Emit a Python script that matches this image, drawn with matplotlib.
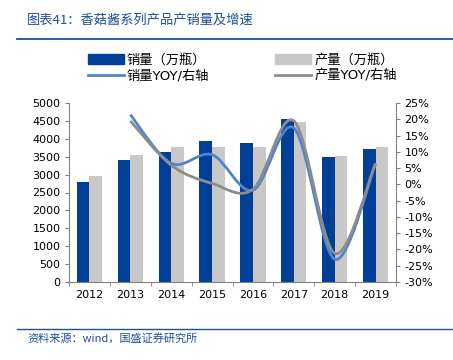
import matplotlib
matplotlib.use("Agg")
import matplotlib.pyplot as plt
import numpy as np
from matplotlib.path import Path
from matplotlib.patches import PathPatch
from matplotlib.lines import Line2D
from matplotlib.patches import Patch

plt.rcParams['font.family'] = ['DejaVu Sans', 'Noto Sans CJK SC']

years = ['2012', '2013', '2014', '2015', '2016', '2017', '2018', '2019']
sales = [2800, 3400, 3620, 3950, 3880, 4550, 3500, 3720]
production = [2970, 3550, 3760, 3760, 3760, 4480, 3530, 3770]
sales_yoy = [None, 21.4, 6.5, 9.1, -1.8, 17.3, -23.0, 6.3]
prod_yoy = [None, 19.5, 5.9, 0.3, -1.5, 19.5, -21.2, 6.5]

title = '图表41：香菇酱系列产品产销量及增速'
source = '资料来源：wind，国盛证券研究所'
legend_labels = ['销量（万瓶）', '产量（万瓶）', '销量YOY/右轴', '产量YOY/右轴']

c_sales = '#003F98'
c_prod = '#C8C8C8'
c_sline = '#5184CC'
c_pline = '#8C8C8C'
c_title = '#1F4E9C'

fig = plt.figure(figsize=(4.53, 3.6), dpi=100)
W, H = 453, 360
ax = fig.add_axes([69 / W, 1 - 282 / H, (396 - 69) / W, (282 - 103) / H])
ax2 = ax.twinx()

x = np.arange(len(years))
bw = 0.31
ax.bar(x - bw / 2, sales, bw, color=c_sales, zorder=2)
ax.bar(x + bw / 2, production, bw, color=c_prod, zorder=2)
ax.set_xlim(-0.5, len(years) - 0.5)
ax.set_ylim(0, 5000)
ax.set_yticks(np.arange(0, 5001, 500))
ax.set_xticks(x)
ax.set_xticklabels(years)
ax.set_xticks(np.arange(-0.5, len(years), 1), minor=True)
ax.tick_params(axis='x', which='major', length=0, pad=6, labelsize=8)
ax.tick_params(axis='x', which='minor', length=3, color='#808080')
ax.tick_params(axis='y', length=3, color='#808080', labelsize=8, pad=3)
for s in ['top', 'right']:
    ax.spines[s].set_visible(False)
ax.spines['left'].set_color('#808080')
ax.spines['bottom'].set_color('#808080')
ax.spines['left'].set_linewidth(0.8)

ax2.set_ylim(-30, 25)
ax2.set_yticks(np.arange(-30, 26, 5))
ax2.set_yticklabels([f'{v}%' for v in range(-30, 26, 5)])
ax2.tick_params(axis='y', length=3, color='#808080', labelsize=8, pad=3)
for s in ['top', 'left', 'bottom']:
    ax2.spines[s].set_visible(False)
ax2.spines['right'].set_color('#808080')
ax2.spines['right'].set_linewidth(0.8)


def smooth_path(xs, ys, t=1 / 6):
    pts = list(zip(xs, ys))
    verts = [pts[0]]
    codes = [Path.MOVETO]
    n = len(pts)
    for i in range(n - 1):
        p0 = pts[i - 1] if i > 0 else pts[i]
        p1 = pts[i]
        p2 = pts[i + 1]
        p3 = pts[i + 2] if i + 2 < n else pts[i + 1]
        c1 = (p1[0] + (p2[0] - p0[0]) * t, p1[1] + (p2[1] - p0[1]) * t)
        c2 = (p2[0] - (p3[0] - p1[0]) * t, p2[1] - (p3[1] - p1[1]) * t)
        verts += [c1, c2, p2]
        codes += [Path.CURVE4] * 3
    return Path(verts, codes)


for series, col in [(sales_yoy, c_sline), (prod_yoy, c_pline)]:
    xs = [xi for xi, v in zip(x, series) if v is not None]
    ys = [v for v in series if v is not None]
    ax2.add_patch(PathPatch(smooth_path(xs, ys), facecolor='none', edgecolor=col,
                            lw=2.0, capstyle='butt', zorder=3))

# legend (column-wise fill: col1 = sales items, col2 = production items)
h_sales = Patch(color=c_sales)
h_prod = Patch(color=c_prod)
h_sline = Line2D([], [], color=c_sline, lw=2.0)
h_pline = Line2D([], [], color=c_pline, lw=2.0)
fig.legend([h_sales, h_sline, h_prod, h_pline],
           [legend_labels[0], legend_labels[2], legend_labels[1], legend_labels[3]],
           loc='upper left', bbox_to_anchor=(76 / W, 1 - 42 / H),
           ncol=2, frameon=False, handlelength=2.7, handleheight=0.75,
           columnspacing=5.0, handletextpad=0.25, labelspacing=0.2,
           prop={'family': ['DejaVu Sans', 'Noto Sans CJK SC'], 'size': 9.5})

# title and source
fig.text(27 / W, 1 - 20 / H, title, color=c_title, fontsize=9.5, style='italic',
         va='center', ha='left', family=['Noto Sans CJK SC', 'DejaVu Sans'])
fig.add_artist(Line2D([17 / W, 453 / W], [1 - 38.5 / H, 1 - 38.5 / H], color=c_title, lw=1.3))
fig.add_artist(Line2D([17 / W, 453 / W], [1 - 329 / H, 1 - 329 / H], color=c_title, lw=1.0))
fig.text(27 / W, 1 - 338 / H, source, color=c_title, fontsize=8, style='italic',
         va='center', ha='left', family=['Noto Sans CJK SC', 'DejaVu Sans'])

fig.savefig('out.png', dpi=100)
